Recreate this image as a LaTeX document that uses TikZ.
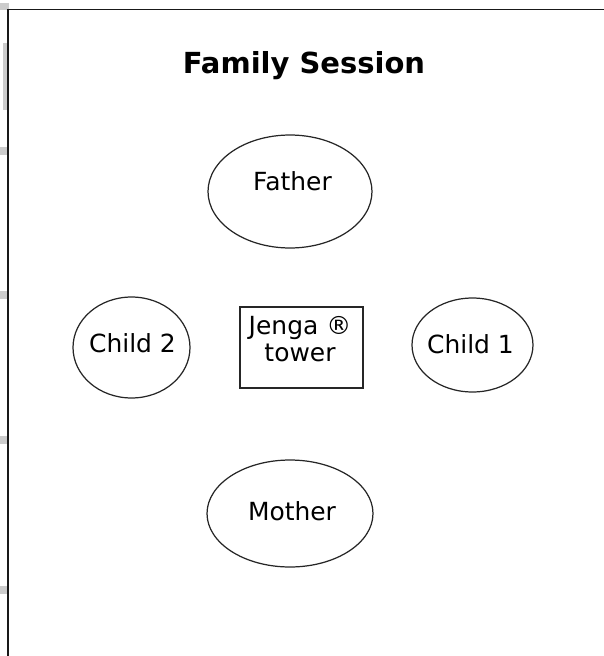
\documentclass[tikz,border=0pt]{standalone}
\usepackage{fontspec}
\setmainfont{DejaVu Sans}
\usetikzlibrary{shapes.geometric}

\begin{document}
\begin{tikzpicture}[x=0.02cm, y=-0.02cm,
	member/.style={draw=black!85, line width=0.7pt, ellipse, inner sep=0pt},
	towerbox/.style={draw=black!85, line width=0.7pt, rectangle, inner sep=0pt},
	membertext/.style={font=\fontsize{14.2}{15.4}\selectfont, inner sep=0pt, align=center}]

\useasboundingbox (0,0) rectangle (604,656);

%margin marks
\fill[black!20] (0,3) rectangle (9,10);
\fill[black!20] (3,43) rectangle (7,110);
\foreach \y in {147, 291, 436, 586}
	\fill[black!20] (0,\y) rectangle (7,\y+8);

%frame
\draw[line width=1.1pt, black!90] (8,656) -- (8,9.5) -- (604,9.5);

%title
\node[anchor=base, font=\fontsize{16.5}{16.5}\bfseries\selectfont] (title) at (304,73) {Family Session};

%family
\node[member, minimum width=3.28cm, minimum height=2.26cm] (father) at (290,191.5) {};
\node[member, minimum width=2.34cm, minimum height=2.02cm] (child2) at (131.5,347.5) {};
\node[member, minimum width=2.42cm, minimum height=1.88cm] (child1) at (472.5,345) {};
\node[member, minimum width=3.32cm, minimum height=2.14cm] (mother) at (290,513.5) {};
\node[towerbox, minimum width=2.46cm, minimum height=1.62cm] (jenga) at (301.5,347.5) {};

%labels
\node[membertext, anchor=base] (fathertext) at (292.5,190) {Father};
\node[membertext, anchor=base] (child2text) at (132.5,352) {Child 2};
\node[membertext, anchor=base] (child1text) at (470.5,353) {Child 1};
\node[membertext, anchor=base] (mothertext) at (292,520) {Mother};
\node[membertext] (jengatext) at (300,339) {Jenga ®\\tower};

\end{tikzpicture}
\end{document}
